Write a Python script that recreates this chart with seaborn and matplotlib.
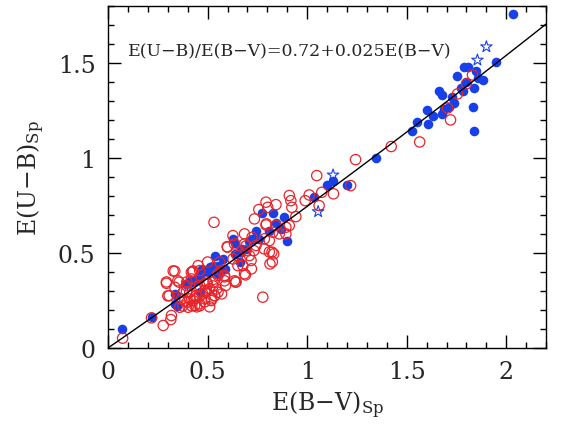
import numpy as np
import pandas as pd
import matplotlib
matplotlib.use("Agg")
import matplotlib.pyplot as plt
import seaborn as sns

# filled blue circles
blue_x = [0.07, 0.22, 0.34, 0.345, 0.46, 0.41, 0.42, 0.45, 0.46, 0.47, 0.50, 0.525, 0.55,
          0.56, 0.535, 0.575, 0.635, 0.625, 0.635, 0.66, 0.66, 0.695, 0.675, 0.71, 0.735,
          0.725, 0.745, 0.76, 0.775, 0.81, 0.83, 0.845, 0.87, 0.885, 0.90,
          1.035, 1.10, 1.13, 1.20, 1.345,
          1.525, 1.55, 1.60, 1.605, 1.63, 1.66, 1.675, 1.675, 1.685, 1.71, 1.725, 1.735,
          1.75, 1.775, 1.785, 1.79, 1.80, 1.81, 1.835, 1.84, 1.84, 1.85, 1.86, 1.885,
          1.95, 2.035,
          0.51, 0.46, 0.425, 0.393, 0.335, 0.335, 0.55, 0.585, 0.67]
blue_y = [0.10, 0.16, 0.28, 0.22, 0.295, 0.35, 0.35, 0.36, 0.37, 0.415, 0.40, 0.43, 0.39,
          0.415, 0.485, 0.47, 0.495, 0.575, 0.55, 0.45, 0.505, 0.52, 0.52, 0.56, 0.575,
          0.575, 0.615, 0.575, 0.71, 0.615, 0.71, 0.66, 0.625, 0.69, 0.56,
          0.795, 0.86, 0.88, 0.86, 1.00,
          1.14, 1.19, 1.25, 1.18, 1.22, 1.35, 1.33, 1.23, 1.26, 1.27, 1.32, 1.29,
          1.43, 1.37, 1.35, 1.48, 1.40, 1.48, 1.27, 1.37, 1.14, 1.46, 1.42, 1.41,
          1.505, 1.76,
          0.426, 0.39, 0.347, 0.337, 0.284, 0.232, 0.432, 0.416, 0.505]

# open red circles
red_x = [1.422, 1.243, 1.048, 1.132, 1.218, 1.073, 0.99, 1.01, 0.91, 0.918, 0.923, 0.793,
         0.802, 0.843, 0.757, 0.735, 0.532, 0.943, 0.793, 0.843, 0.91, 0.627, 0.598, 0.685,
         0.723, 0.785, 0.81, 0.785, 0.823, 0.832, 0.813, 0.732, 0.71, 0.718, 0.627, 0.652,
         0.69, 0.64, 0.777, 0.568, 0.585, 0.59, 0.527, 0.535, 0.51, 0.493, 0.46, 0.452,
         0.418, 0.418, 0.393, 0.377, 0.335, 0.293, 0.357, 0.307, 0.335, 0.397, 0.427, 0.443,
         0.46, 0.485, 0.518, 0.485, 0.41, 0.368, 0.36, 0.402, 0.318, 0.315, 0.277, 0.073,
         0.218, 0.552, 0.435, 0.46, 0.498, 0.552, 0.677, 0.693, 0.743, 0.827, 0.86, 0.893,
         1.06, 0.893, 1.83, 1.755, 1.705, 1.72, 1.565, 1.80,
         0.635, 0.795, 0.81, 0.825, 0.685, 0.635, 0.585, 0.425, 0.395, 0.485, 0.545, 0.52,
         0.46, 0.41, 0.375, 0.445, 0.57, 0.72,
         0.60, 0.685, 0.693, 0.65, 0.327, 0.293, 0.35, 0.30, 0.427, 0.50, 0.56, 0.55,
         0.585, 0.643, 0.443, 0.495, 0.527, 0.475, 0.393, 0.385, 0.435, 0.485, 0.535,
         0.51, 0.46, 0.42]
red_y = [1.060, 0.991, 0.907, 0.811, 0.854, 0.819, 0.775, 0.805, 0.802, 0.775, 0.740, 0.767,
         0.740, 0.754, 0.728, 0.679, 0.661, 0.691, 0.647, 0.644, 0.644, 0.591, 0.533, 0.547,
         0.582, 0.574, 0.565, 0.521, 0.504, 0.495, 0.442, 0.512, 0.486, 0.46, 0.468, 0.433,
         0.384, 0.346, 0.267, 0.407, 0.381, 0.328, 0.346, 0.275, 0.311, 0.293, 0.407, 0.433,
         0.398, 0.363, 0.328, 0.293, 0.404, 0.340, 0.346, 0.275, 0.319, 0.240, 0.249, 0.275,
         0.328, 0.258, 0.249, 0.302, 0.293, 0.258, 0.214, 0.214, 0.170, 0.149, 0.118, 0.051,
         0.158, 0.293, 0.223, 0.232, 0.337, 0.381, 0.433, 0.512, 0.539, 0.609, 0.60, 0.635,
         0.749, 0.60, 1.437, 1.337, 1.263, 1.20, 1.084, 1.39,
         0.547, 0.653, 0.505, 0.453, 0.39, 0.353, 0.353, 0.40, 0.347, 0.337, 0.31, 0.258,
         0.274, 0.258, 0.221, 0.216, 0.284, 0.416,
         0.53, 0.60, 0.537, 0.485, 0.405, 0.347, 0.353, 0.274, 0.405, 0.452, 0.452, 0.39,
         0.374, 0.347, 0.32, 0.347, 0.326, 0.284, 0.295, 0.247, 0.258, 0.242, 0.274,
         0.216, 0.221, 0.221]

# open blue stars
star_x = [1.90, 1.855, 1.13, 1.055]
star_y = [1.585, 1.515, 0.91, 0.717]

# printed relation E(U-B)/E(B-V) = a + b E(B-V)
fit_a = 0.72
fit_b = 0.025

sns.set_style("ticks")
plt.rcParams["font.family"] = ["DejaVu Serif"]
plt.rcParams["mathtext.fontset"] = "dejavuserif"

blue = "#1740e8"
red = "#e8242a"

fig = plt.figure(figsize=(5.63, 4.35), dpi=100)
ax = fig.add_axes([0.192, 0.198, 0.778, 0.786])

sns.scatterplot(x=blue_x, y=blue_y, ax=ax, color=blue, s=48, linewidth=0, zorder=2)
sns.scatterplot(x=red_x, y=red_y, ax=ax, facecolor="none", edgecolor=red, s=55,
                linewidth=0.9, zorder=3)
sns.scatterplot(x=star_x, y=star_y, ax=ax, marker="*", facecolor="none", edgecolor=blue,
                s=75, linewidth=0.8, zorder=3)

xs = np.linspace(0, 2.2, 100)
sns.lineplot(x=xs, y=xs * (fit_a + fit_b * xs), ax=ax, color="black", linewidth=1.0,
             zorder=4)

ax.set_xlim(0, 2.2)
ax.set_ylim(0, 1.8)
ax.set_xticks([0, 0.5, 1, 1.5, 2])
ax.set_xticklabels(["0", "0.5", "1", "1.5", "2"])
ax.set_yticks([0, 0.5, 1, 1.5])
ax.set_yticklabels(["0", "0.5", "1", "1.5"])
ax.set_xticks(np.arange(0, 2.21, 0.1), minor=True)
ax.set_yticks(np.arange(0, 1.81, 0.1), minor=True)
ax.tick_params(which="both", direction="in", top=True, right=True, labelsize=17,
               width=1.0, color="black")
ax.tick_params(which="major", length=9.5, pad=9)
ax.tick_params(which="minor", length=4.5)
for sp in ax.spines.values():
    sp.set_linewidth(1.0)
    sp.set_color("black")

ax.set_xlabel(r"E(B$-$V)$_{\rm Sp}$", fontsize=17, labelpad=4)
ax.set_ylabel(r"E(U$-$B)$_{\rm Sp}$", fontsize=17, labelpad=8)

ax.text(0.045, 0.87, "E(U\u2212B)/E(B\u2212V)=0.72+0.025E(B\u2212V)", transform=ax.transAxes,
        fontsize=12.5, ha="left", va="center")

fig.savefig("out.png", dpi=100)
